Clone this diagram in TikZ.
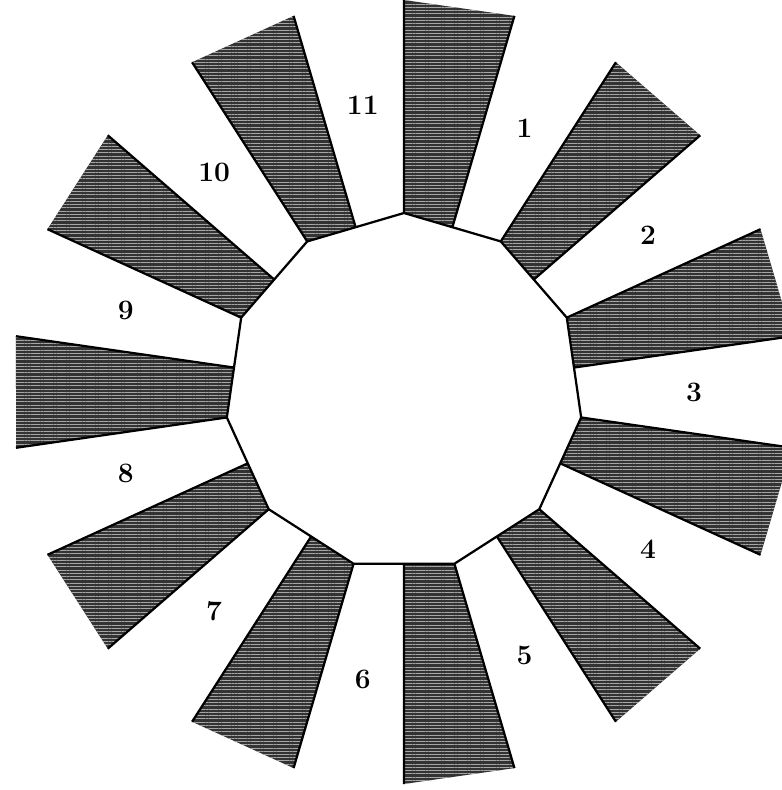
\documentclass[tikz,border=0pt]{standalone}
\usepackage{tikz}
\usetikzlibrary{patterns.meta}
\begin{document}
\begin{tikzpicture}[x=0.025cm, y=0.025cm, line join=round,
  ray/.style={fill=black!80, postaction={pattern={Lines[distance=2.3pt,line width=0.6pt]}, pattern color=black!35}},
  side/.style={line width=1.6pt},
  num/.style={font=\fontsize{20}{24}\selectfont\bfseries}]
\useasboundingbox (-404,-398) rectangle (378,392);
\clip (-404,-398) rectangle (378,392);
\foreach \k in {0,...,10}{
  \pgfmathsetmacro{\a}{90-32.7273*\k}
  \pgfmathsetmacro{\b}{\a-16.3636}
  \fill[ray] (\a:179) -- (\a:392) -- (\b:392) -- (\b:171.8) -- cycle;
  \draw[side] (\a:179) -- (\a:392) (\b:171.8) -- (\b:392);
}
\draw[side] (90:179) \foreach \k in {1,...,10}{ -- ({90-32.7273*\k}:179)} -- cycle;
\foreach \k in {1,...,11}
  \node[num] (\k) at ({90-32.7273*(\k-1)-24.55}:290) {\k};
\end{tikzpicture}
\end{document}
